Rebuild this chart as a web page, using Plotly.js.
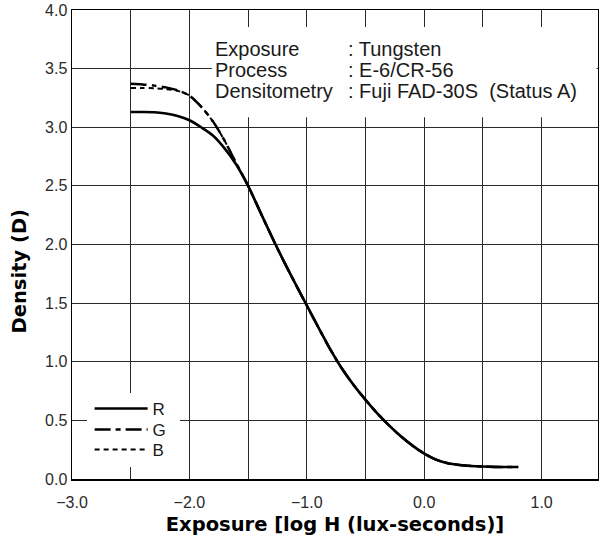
<!DOCTYPE html>
<html>
<head>
<meta charset="utf-8">
<script src="https://cdn.plot.ly/plotly-3.0.1.min.js"></script>
<style>
  html, body { margin: 0; padding: 0; background: #ffffff; }
  #chart { width: 599px; height: 536px; }
</style>
</head>
<body>
<div id="chart"></div>
<script>
// ---- data ----
const logH = [-2.5, -2.4, -2.3, -2.2, -2.1, -2.0, -1.9, -1.8, -1.7, -1.6, -1.5, -1.4, -1.3, -1.2, -1.1, -1.0,
              -0.9, -0.8, -0.7, -0.6, -0.5, -0.4, -0.3, -0.2, -0.1, 0.0, 0.1, 0.2, 0.3, 0.4, 0.5, 0.6, 0.7, 0.8];
const densityR = [3.13, 3.13, 3.128, 3.117, 3.097, 3.06, 3.00, 2.93, 2.82, 2.68, 2.50, 2.285, 2.07, 1.865, 1.67, 1.48,
                  1.29, 1.105, 0.94, 0.80, 0.675, 0.56, 0.457, 0.365, 0.285, 0.217, 0.165, 0.135, 0.12, 0.111, 0.106, 0.103, 0.102, 0.102];
const densityG = [3.37, 3.365, 3.355, 3.34, 3.315, 3.27, 3.175, 3.05, 2.885, 2.69, 2.50, 2.285, 2.07, 1.865, 1.67, 1.48,
                  1.29, 1.105, 0.94, 0.80, 0.675, 0.56, 0.457, 0.365, 0.285, 0.217, 0.165, 0.135, 0.12, 0.111, 0.106, 0.103, 0.102, 0.102];
const densityB = [3.335, 3.335, 3.332, 3.325, 3.31, 3.27, 3.175, 3.05, 2.885, 2.69, 2.50, 2.285, 2.07, 1.865, 1.67, 1.48,
                  1.29, 1.105, 0.94, 0.80, 0.675, 0.56, 0.457, 0.365, 0.285, 0.217, 0.165, 0.135, 0.12, 0.111, 0.106, 0.103, 0.102, 0.102];
const seriesNames = ['R', 'G', 'B'];

const xTickVals = [-3.0, -2.5, -2.0, -1.5, -1.0, -0.5, 0.0, 0.5, 1.0];
const xTickText = ['\u22123.0', '', '\u22122.0', '', '\u22121.0', '', '0.0', '', '1.0'];
const yTickVals = [0.0, 0.5, 1.0, 1.5, 2.0, 2.5, 3.0, 3.5, 4.0];
const yTickText = ['0.0', '0.5', '1.0', '1.5', '2.0', '2.5', '3.0', '3.5', '4.0'];

const infoLabels = ['Exposure', 'Process', 'Densitometry'];
const infoValues = [': Tungsten', ': E-6/CR-56', ': Fuji FAD-30S\u00a0\u00a0(Status A)'];

const xTitle = 'Exposure [log H (lux-seconds)]';
const yTitle = 'Density (D)';

// ---- styling ----
const lightFont = 'Liberation Sans, Arial, sans-serif';
const boldFont = 'DejaVu Sans, Liberation Sans, sans-serif';
const legendFont = { family: lightFont, size: 17, color: '#1a1a1a' };

const traces = [
  { x: logH, y: densityB, name: seriesNames[2], type: 'scatter', mode: 'lines', legend: 'legend3',
    line: { color: '#000000', width: 2, dash: '5px,4px', shape: 'spline', smoothing: 0.8 } },
  { x: logH, y: densityG, name: seriesNames[1], type: 'scatter', mode: 'lines', legend: 'legend2',
    line: { color: '#000000', width: 2.5, dash: '16px,5px,5px,5px', shape: 'spline', smoothing: 0.8 } },
  { x: logH, y: densityR, name: seriesNames[0], type: 'scatter', mode: 'lines', legend: 'legend',
    line: { color: '#000000', width: 2.6, shape: 'spline', smoothing: 0.8 } }
];

const infoY = [0.9175, 0.8727, 0.8279];
const annotations = [];
for (let i = 0; i < infoLabels.length; i++) {
  annotations.push({ text: infoLabels[i], xref: 'paper', yref: 'paper', x: 0.268, y: infoY[i],
    xanchor: 'left', yanchor: 'middle', showarrow: false,
    font: { family: lightFont, size: 20, color: '#1a1a1a' } });
  annotations.push({ text: infoValues[i], xref: 'paper', yref: 'paper', x: 0.521, y: infoY[i],
    xanchor: 'left', yanchor: 'middle', showarrow: false,
    font: { family: lightFont, size: 20, color: '#1a1a1a' } });
}
annotations.push({ text: '<b>' + yTitle + '</b>', xref: 'paper', yref: 'paper', x: -0.099, y: 0.4424,
  xanchor: 'center', yanchor: 'middle', textangle: -90, showarrow: false,
  font: { family: boldFont, size: 19.5, color: '#000000' } });

function legendAt(yPaper) {
  return { x: 0.0335, y: yPaper, xanchor: 'left', yanchor: 'middle',
    bgcolor: 'rgba(0,0,0,0)', borderwidth: 0, font: legendFont, itemwidth: 53 };
}

const layout = {
  width: 599, height: 536,
  margin: { l: 72, r: 1, t: 10, b: 57, pad: 0 },
  paper_bgcolor: '#ffffff', plot_bgcolor: '#ffffff',
  showlegend: true,
  legend: legendAt(0.1493),
  legend2: legendAt(0.1045),
  legend3: legendAt(0.0618),
  xaxis: {
    range: [-3.0, 1.48], tickmode: 'array', tickvals: xTickVals, ticktext: xTickText,
    showgrid: true, gridcolor: '#2a2a2a', gridwidth: 1, zeroline: false,
    showline: true, linecolor: '#000000', linewidth: 1.5, mirror: true,
    ticks: '', ticklabelstandoff: 8, tickfont: { family: lightFont, size: 16, color: '#2a2a2a' },
    title: { text: '<b>' + xTitle + '</b>', font: { family: boldFont, size: 19.5, color: '#000000' }, standoff: 10 },
    fixedrange: true
  },
  yaxis: {
    range: [0, 4.0], tickmode: 'array', tickvals: yTickVals, ticktext: yTickText,
    showgrid: true, gridcolor: '#2a2a2a', gridwidth: 1, zeroline: false,
    showline: true, linecolor: '#000000', linewidth: 1.5, mirror: true,
    ticks: '', tickfont: { family: lightFont, size: 16, color: '#2a2a2a' },
    fixedrange: true
  },
  shapes: [
    { type: 'rect', xref: 'x', yref: 'y', x0: -1.81, x1: 1.468, y0: 3.085, y1: 3.855,
      fillcolor: '#ffffff', line: { width: 0 }, layer: 'above' },
    { type: 'rect', xref: 'paper', yref: 'paper', x0: 0.0285, x1: 0.2053, y0: 0.0256, y1: 0.1834,
      fillcolor: '#ffffff', line: { width: 0 }, layer: 'above' }
  ],
  annotations: annotations
};

Plotly.newPlot('chart', traces, layout, { displayModeBar: false, staticPlot: true });
</script>
</body>
</html>
